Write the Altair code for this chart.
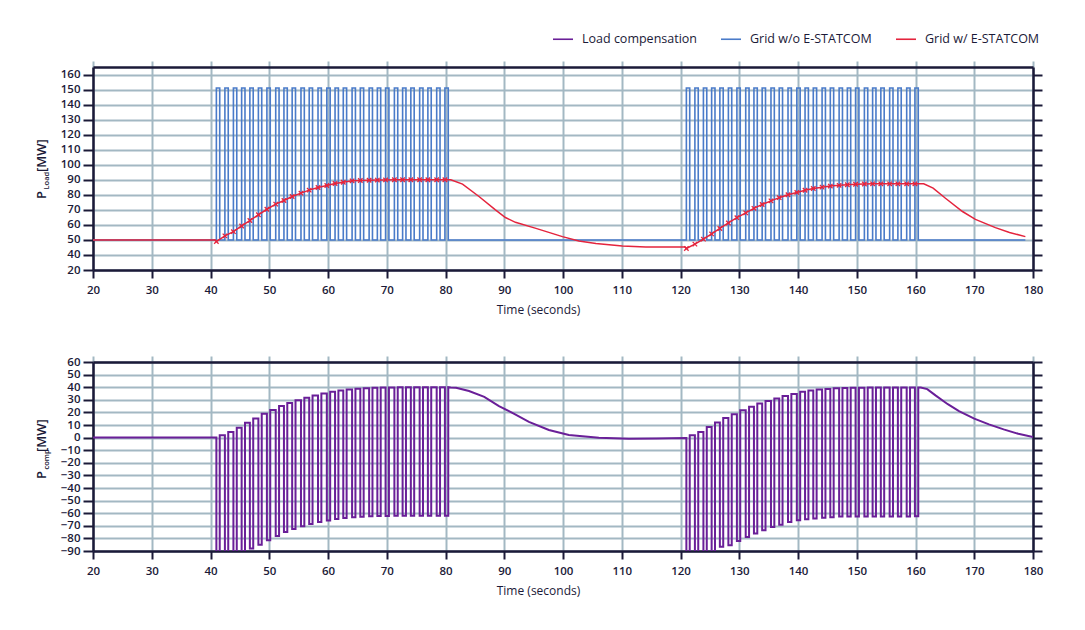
import altair as alt
import pandas as pd

# ---------------- axis ticks ----------------
TIME_TICKS = list(range(20, 181, 10))
LOAD_TICKS = [30, 40, 50, 60, 70, 80, 90, 100, 110, 120, 130, 140, 150, 160]
COMP_TICKS = [-90, -80, -70, -60, -50, -40, -30, -20, -10, 0, 10, 20, 30, 40, 50, 60]

SERIES = ["Load compensation", "Grid w/o E-STATCOM", "Grid w/ E-STATCOM"]
COLORS = ["#6a1f98", "#4a7bc9", "#e4243d"]

# ---------------- pulse trains ----------------
PULSE_START_1 = [41.0, 42.45, 43.9, 45.3, 46.7, 48.15, 49.6, 51.1, 52.5, 53.9, 55.4, 56.8,
                 58.3, 59.8, 61.2, 62.6, 64.1, 65.5, 67.0, 68.4, 69.8, 71.3, 72.7, 74.1,
                 75.6, 77.0, 78.5, 79.9]
PULSE_START_2 = [121.0, 122.45, 123.9, 125.3, 126.7, 128.15, 129.6, 131.1, 132.5, 133.9,
                 135.4, 136.8, 138.3, 139.8, 141.2, 142.6, 144.1, 145.5, 147.0, 148.4,
                 149.8, 151.3, 152.7, 154.1, 155.6, 157.0, 158.5, 159.9]
PULSE_WIDTH = 0.57
GRID_BASE = 50
GRID_PEAK = 151
GRID_START = 20
GRID_END = 178.7

# ---------------- Grid w/ E-STATCOM (red) ----------------
RED_PRE_T = [20, 40.8]
RED_PRE_V = [50, 50]
RED_TRAIN_1 = [48.9, 52.7, 55.5, 59.3, 62.9, 66.7, 70.4, 73.8, 76.2, 78.9, 81.1, 83.1, 84.9,
               86.2, 87.5, 88.4, 89.3, 89.5, 89.7, 89.8, 89.9, 90.0, 90.0, 90.0, 90.0, 90.0,
               90.0, 90.0]
RED_DECAY_1_T = [80.9, 82.9, 85.7, 88.5, 90.2, 91.9, 95.4, 99.9, 102.7, 105.6, 110.1, 114.1, 120.8]
RED_DECAY_1_V = [90.0, 87.1, 78.9, 70.0, 64.9, 61.7, 57.7, 52.2, 49.3, 47.7, 46.0, 45.3, 45.3]
RED_TRAIN_2 = [44.3, 47.2, 50.5, 54.0, 57.6, 61.3, 64.8, 68.0, 71.0, 73.6, 76.0, 78.1, 80.0,
               81.6, 83.0, 84.2, 85.1, 85.8, 86.3, 86.7, 87.0, 87.2, 87.3, 87.3, 87.3, 87.3,
               87.3, 87.3]
RED_DECAY_2_T = [161.4, 163.0, 165.1, 168.0, 170.2, 173.6, 176.0, 178.7]
RED_DECAY_2_V = [87.3, 84.5, 77.7, 68.9, 63.7, 58.2, 55.0, 52.2]

# ---------------- Load compensation (purple) ----------------
COMP_PRE_T = [20]
COMP_PRE_V = [0]
COMP_HIGH_1 = [1.9, 4.5, 7.9, 11.7, 15.1, 19.0, 22.0, 25.0, 27.5, 29.7, 31.7, 33.5, 35.0, 36.3,
               37.3, 38.1, 38.7, 39.2, 39.5, 39.7, 39.8, 39.9, 40.0, 40.0, 40.0, 40.0, 40.0, 40.0]
COMP_LOW_1 = [-100.0, -97.5, -94.0, -90.5, -88.0, -85.0, -81.5, -78.0, -75.0, -72.5, -70.3,
              -68.5, -67.0, -65.7, -64.7, -63.9, -63.3, -62.8, -62.5, -62.3, -62.2, -62.1,
              -62.0, -62.0, -62.0, -62.0, -62.0, -62.0]
COMP_DECAY_1_T = [80.9, 81.8, 84.0, 86.6, 89.1, 91.7, 94.2, 97.6, 101.0, 106.1, 111.2, 116.0, 120.9]
COMP_DECAY_1_V = [39.8, 39.5, 37.0, 32.3, 25.0, 18.8, 12.5, 6.0, 2.0, -0.2, -1.0, -0.8, -0.3]
COMP_HIGH_2 = [1.9, 4.5, 8.5, 11.9, 15.6, 18.5, 21.7, 24.4, 27.0, 29.1, 31.0, 33.1, 34.7, 36.3,
               37.3, 38.1, 38.6, 39.2, 39.4, 39.5, 39.6, 39.7, 39.8, 39.8, 39.8, 39.8, 39.8, 39.8]
COMP_LOW_2 = [-100.0, -97.0, -93.5, -90.5, -86.7, -85.4, -82.0, -78.8, -76.2, -73.5, -70.9,
              -69.1, -66.9, -65.6, -64.8, -64.3, -63.7, -63.2, -62.7, -62.7, -62.7, -62.7,
              -62.7, -62.7, -62.7, -62.7, -62.7, -62.5]
COMP_DECAY_2_T = [160.9, 162.0, 163.4, 165.5, 167.4, 170.0, 172.5, 175.0, 177.5, 180.0]
COMP_DECAY_2_V = [39.8, 38.5, 33.5, 26.5, 21.0, 15.0, 10.5, 6.5, 3.0, 0.5]

# ---------------- styling ----------------
DARK = "#1b1a38"
GRID = "#a3b8c3"
FONT = "Open Sans"
LABEL_SIZE = 11.5
X_MARK = "M-1,-1L1,1M-1,1L1,-1"


def grid_pulses(starts):
    ts, vs = [], []
    for t in starts:
        ts += [t, t, t + PULSE_WIDTH, t + PULSE_WIDTH]
        vs += [GRID_BASE, GRID_PEAK, GRID_PEAK, GRID_BASE]
    return ts, vs


def comp_pulses(starts, highs, lows, prev):
    ts, vs = [], []
    for t, h, l in zip(starts, highs, lows):
        ts += [t, t, t + PULSE_WIDTH, t + PULSE_WIDTH]
        vs += [prev, l, l, h]
        prev = h
    return ts, vs


def frame(ts, vs, name):
    return pd.DataFrame({"t": ts, "v": vs, "i": list(range(len(ts))), "series": name})


p1t, p1v = grid_pulses(PULSE_START_1)
p2t, p2v = grid_pulses(PULSE_START_2)
blue_df = frame([GRID_START] + p1t + p2t + [GRID_END],
                [GRID_BASE] + p1v + p2v + [GRID_BASE], SERIES[1])

red_df = frame(RED_PRE_T + PULSE_START_1 + RED_DECAY_1_T + PULSE_START_2 + RED_DECAY_2_T,
               RED_PRE_V + RED_TRAIN_1 + RED_DECAY_1_V + RED_TRAIN_2 + RED_DECAY_2_V,
               SERIES[2])
cross_df = pd.DataFrame({"t": PULSE_START_1 + PULSE_START_2, "v": RED_TRAIN_1 + RED_TRAIN_2})

c1t, c1v = comp_pulses(PULSE_START_1, COMP_HIGH_1, COMP_LOW_1, COMP_PRE_V[-1])
c2t, c2v = comp_pulses(PULSE_START_2, COMP_HIGH_2, COMP_LOW_2, COMP_DECAY_1_V[-1])
comp_df = frame(COMP_PRE_T + c1t + COMP_DECAY_1_T + c2t + COMP_DECAY_2_T,
                COMP_PRE_V + c1v + COMP_DECAY_1_V + c2v + COMP_DECAY_2_V, SERIES[0])

# ---------------- scales / axes ----------------
x_scale = alt.Scale(domain=[20, 180], nice=False, zero=False)
load_scale = alt.Scale(domain=[30, 165], nice=False, zero=False)
comp_scale = alt.Scale(domain=[-90, 60], nice=False, zero=False)

x_axis = alt.Axis(values=TIME_TICKS, format="d", grid=True, gridColor=GRID, gridWidth=2,
                  domainColor=DARK, domainWidth=2.5, tickColor=DARK, tickWidth=2, tickSize=8,
                  labelFont=FONT, labelFontSize=LABEL_SIZE, labelFontWeight=600,
                  labelColor=DARK, labelPadding=6, labelFlush=False,
                  title="Time (seconds)", titleFont=FONT, titleFontSize=12,
                  titleFontWeight=500, titleColor=DARK, titlePadding=9, titleX=445)
x_top = alt.Axis(orient="top", values=TIME_TICKS, labels=False, grid=False, title="",
                 domainColor=DARK, domainWidth=2.5, tickColor=GRID, tickWidth=2, tickSize=6)


def y_left(values, expr=None):
    kw = dict(values=values, grid=True, gridColor=GRID, gridWidth=2, domainColor=DARK,
              domainWidth=2.5, tickColor=DARK, tickWidth=2, tickSize=10, labelFont=FONT,
              labelFontSize=LABEL_SIZE, labelFontWeight=600, labelColor=DARK, labelPadding=3,
              labelFlush=False, labelOverlap=False, title="")
    if expr:
        kw["labelExpr"] = expr
    return alt.Axis(**kw)


def y_right(values):
    return alt.Axis(orient="right", values=values, labels=False, grid=False, title="",
                    domainColor=DARK, domainWidth=2.5, tickColor=DARK, tickWidth=2, tickSize=9)


legend = alt.Legend(title=None, orient="none", legendX=459, legendY=-39, direction="horizontal",
                    symbolType="stroke", symbolSize=400, symbolStrokeWidth=1.6,
                    labelFont=FONT, labelFontSize=12.5, labelFontWeight=500, labelColor=DARK,
                    labelOffset=8, columnPadding=20, padding=0)
color = alt.Color("series:N", scale=alt.Scale(domain=SERIES, range=COLORS), legend=legend)

W = 940
H_TOP = 203
H_BOT = 189


def ytitle(main, sub, anchor_y, x0=-47):
    base = pd.DataFrame({"a": [0]})
    common = dict(angle=270, align="left", baseline="alphabetic", font=FONT, color=DARK)
    p = alt.Chart(base).mark_text(text="P", fontSize=13, fontWeight=600, **common).encode(
        x=alt.value(x0), y=alt.value(anchor_y))
    s = alt.Chart(base).mark_text(text=sub, fontSize=7.5, fontWeight=600, **common).encode(
        x=alt.value(x0 + 3), y=alt.value(anchor_y - 9.5))
    m = alt.Chart(base).mark_text(text=main, fontSize=13, fontWeight=600, **common).encode(
        x=alt.value(x0), y=alt.value(anchor_y - 9.5 - len(sub) * 4.1 - 1))
    return [p, s, m]


x_enc = alt.X("t:Q", scale=x_scale, axis=x_axis)
x_plain = alt.X("t:Q", scale=x_scale, axis=None)
y_load = alt.Y("v:Q", scale=load_scale,
               axis=y_left(LOAD_TICKS, "datum.value == 30 ? '20' : datum.label"))
y_load_plain = alt.Y("v:Q", scale=load_scale, axis=None)

frame_top = alt.Chart(blue_df).mark_line(opacity=0).encode(
    x=alt.X("t:Q", scale=x_scale, axis=x_top),
    y=alt.Y("v:Q", scale=load_scale, axis=y_right(LOAD_TICKS)))
blue = alt.Chart(blue_df).mark_line(strokeWidth=1.6, clip=True).encode(
    x=x_enc, y=y_load, color=color, order="i:Q")
red = alt.Chart(red_df).mark_line(strokeWidth=1.5, clip=True).encode(
    x=x_plain, y=y_load_plain, color=color, order="i:Q")
cross = alt.Chart(cross_df).mark_point(shape=X_MARK, filled=False, size=20, strokeWidth=1.3,
                                       color=COLORS[2], opacity=1).encode(x=x_plain, y=y_load_plain)

top = alt.layer(frame_top, blue, red, cross, *ytitle("[MW]", "Load", 132)).resolve_axis(
    x="independent", y="independent").properties(width=W, height=H_TOP)

y_comp = alt.Y("v:Q", scale=comp_scale, axis=y_left(COMP_TICKS))
frame_bot = alt.Chart(comp_df).mark_line(opacity=0).encode(
    x=alt.X("t:Q", scale=x_scale, axis=x_top),
    y=alt.Y("v:Q", scale=comp_scale, axis=y_right(COMP_TICKS)))
purple = alt.Chart(comp_df).mark_line(strokeWidth=2, clip=True).encode(
    x=x_enc, y=y_comp, color=color, order="i:Q")

bottom = alt.layer(frame_bot, purple, *ytitle("[MW]", "comp", 117)).resolve_axis(
    x="independent", y="independent").properties(width=W, height=H_BOT)

chart = alt.vconcat(top, bottom, spacing=92, bounds="flush").resolve_scale(
    color="shared").configure_view(stroke=None).properties(
    padding={"left": 36, "top": 28, "right": 5, "bottom": 5}, background="white")

chart.save("out.html", embed_options={"renderer": "svg", "actions": False})
